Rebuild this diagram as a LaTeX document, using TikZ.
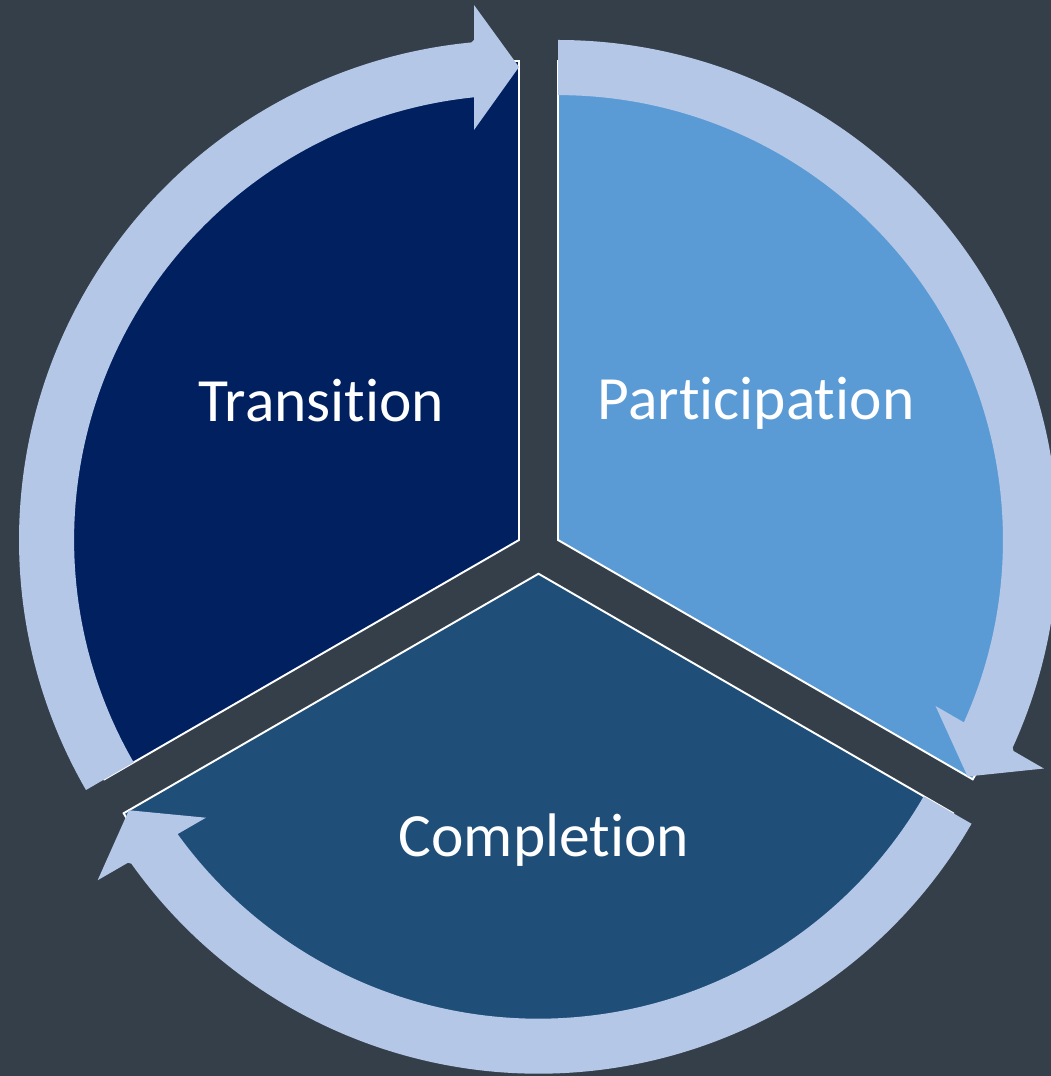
\documentclass[tikz,border=0pt]{standalone}
\usepackage{fontspec}
\setmainfont{Carlito}[Ligatures=NoCommon]
\usepackage{tikz}
\usetikzlibrary{calc}
\definecolor{bgslate}{HTML}{353F4A}
\definecolor{transblue}{HTML}{002060}
\definecolor{partblue}{HTML}{5B9BD5}
\definecolor{compblue}{HTML}{1F4E79}
\definecolor{arrowblue}{HTML}{B4C7E7}

% curved arrow around one sector: centre, start angle, tip angle
\newcommand{\cyclearrow}[3]{%
	\fill[arrowblue] ($(#1)+(#2:500)$) arc[start angle=#2, end angle=#3+5.45, radius=10cm]
		-- ($(#1)+(#3:500)+(#3+90:45)$) -- ($(#1)+(#3:535)+(#3+90:45)$)
		-- ($(#1)+(#3:473)$)
		-- ($(#1)+(#3:410)+(#3+90:45)$) -- ($(#1)+(#3:445)+(#3+90:45)$)
		-- ($(#1)+(#3+5.45:445)$) arc[start angle=#3+5.45, end angle=#2, radius=8.9cm] -- cycle;}

\begin{document}
\begin{tikzpicture}[x=0.02cm, y=0.02cm,
	sector/.style={draw=white, line width=1.1pt, line join=miter},
	caption/.style={text=white, anchor=base, inner sep=0pt, font=\fontsize{35}{42}\selectfont}]
	\fill[bgslate] (0,0) rectangle (1051,1076);
	\useasboundingbox (0,0) rectangle (1051,1076);
	
	\coordinate (tc) at (519,536);
	\coordinate (pc) at (558,536);
	\coordinate (cc) at (538.5,502.25);
	
	\filldraw[sector, fill=transblue] (tc) -- ($(tc)+(90:479)$) arc[start angle=90, end angle=210, radius=9.58cm] -- cycle;
	\filldraw[sector, fill=partblue] (pc) -- ($(pc)+(90:479)$) arc[start angle=90, end angle=-30, radius=9.58cm] -- cycle;
	\filldraw[sector, fill=compblue] (cc) -- ($(cc)+(210:479)$) arc[start angle=210, end angle=330, radius=9.58cm] -- cycle;
	
	\cyclearrow{tc}{210}{90}
	\cyclearrow{pc}{90}{-30}
	\cyclearrow{cc}{-30}{-150}
	
	\node[caption] (trans) at (321.5,654) {Transition};
	\node[caption] (part) at (756,656) {Participation};
	\node[caption] (comp) at (544,219) {Completion};
	
\end{tikzpicture}
\end{document}
